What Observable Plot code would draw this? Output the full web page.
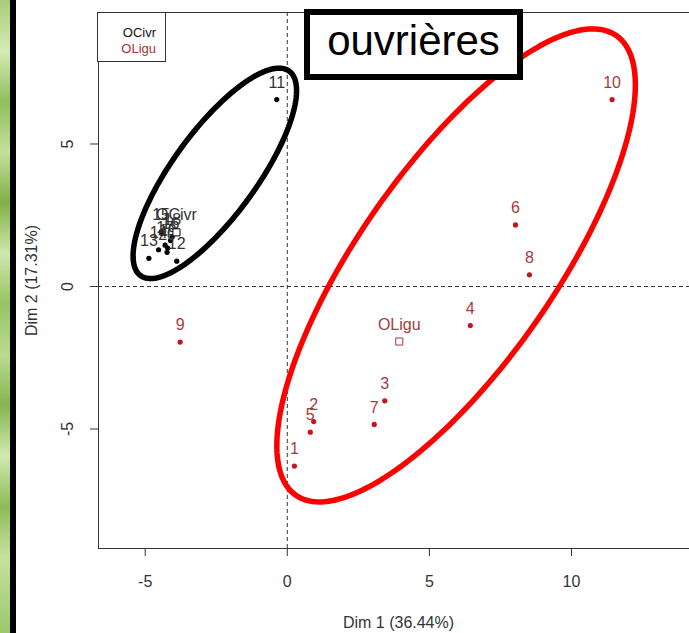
<!DOCTYPE html>
<html>
<head>
<meta charset="utf-8">
<script src="https://cdn.jsdelivr.net/npm/d3@7"></script>
<script src="https://cdn.jsdelivr.net/npm/@observablehq/plot@0.6"></script>
<style>
  html, body { margin: 0; padding: 0; background: #fff; }
  body { width: 689px; height: 633px; overflow: hidden; position: relative; font-family: "Liberation Sans", Arial, sans-serif; }
  #chart { position: absolute; left: 0; top: 0; width: 700px; height: 633px; }
  #chart svg { max-width: none !important; width: 700px; height: 633px; }
  #leaf { position: absolute; left: 0; top: 0; width: 10px; height: 633px;
    background: linear-gradient(to bottom, #a8cc78 0%, #d6ebb6 8%, #8fbf5a 16%, #c4e09c 24%, #7fb046 32%, #cfe7ad 40%, #96c463 48%, #bcdb92 56%, #84b64e 64%, #d2e9b2 72%, #8cbc57 80%, #c6e1a0 88%, #9ac86a 100%); }
  #bar { position: absolute; left: 10px; top: 0; width: 6px; height: 633px; background: #000; }
  #legend { position: absolute; left: 97px; top: 12px; width: 69px; height: 50px; box-sizing: border-box;
    border: 1px solid #333; background: #fff; text-align: right; padding: 12px 9px 0 0;
    font-size: 13px; line-height: 15.5px; }
  #title { position: absolute; left: 304px; top: 9px; width: 219px; height: 71px; box-sizing: border-box;
    border: 6px solid #000; background: #fff; display: flex; align-items: center; justify-content: center;
    padding-bottom: 8px; font-size: 42px; color: #000; }
</style>
</head>
<body>
<div id="chart"></div>
<div id="leaf"></div>
<div id="bar"></div>
<div id="legend"><div style="color:#111">OCivr</div><div style="color:#a83232">OLigu</div></div>
<div id="title">ouvrières</div>
<script>
// ---- data ----
const ligIds = ["1","2","3","4","5","6","7","8","9","10"];
const ligX = [0.25, 0.93, 3.43, 6.44, 0.81, 8.03, 3.06, 8.52, -3.77, 11.43];
const ligY = [-6.30, -4.74, -4.01, -1.37, -5.11, 2.16, -4.84, 0.41, -1.95, 6.56];

const civIds = ["11","12","13","14","15","16","17","18","19","20"];
const civX = [-0.37, -3.89, -4.87, -4.53, -4.44, -4.11, -4.30, -4.05, -4.21, -4.23];
const civY = [6.56, 0.89, 0.99, 1.29, 1.91, 1.61, 1.45, 1.75, 1.35, 1.20];

const catNames = ["OCivr", "OLigu"];
const catX = [-3.90, 3.94];
const catY = [1.90, -1.93];

const xTicks = [-5, 0, 5, 10];
const yTicks = [-5, 0, 5];
const xTitle = "Dim 1 (36.44%)";
const yTitle = "Dim 2 (17.31%)";

// annotation ellipses (centre, semi-axes in data units, rotation in degrees)
const ellipseNames = ["civ", "lig"];
const ellipseCx = [-2.55, 5.94];
const ellipseCy = [3.97, 0.74];
const ellipseA = [4.44, 9.84];
const ellipseB = [1.48, 3.44];
const ellipseAngle = [53.9, 55];

// ---- tables ----
const lig = ligIds.map((id, i) => ({id, x: ligX[i], y: ligY[i]}));
const civ = civIds.map((id, i) => ({id, x: civX[i], y: civY[i]}));
const cats = catNames.map((name, i) => ({name, x: catX[i], y: catY[i]}));

function ellipse(k) {
  const pts = [];
  const th = ellipseAngle[k] * Math.PI / 180;
  for (let i = 0; i < 180; i++) {
    const t = i / 180 * 2 * Math.PI;
    const u = ellipseA[k] * Math.cos(t), v = ellipseB[k] * Math.sin(t);
    pts.push({name: ellipseNames[k],
      x: ellipseCx[k] + u * Math.cos(th) - v * Math.sin(th),
      y: ellipseCy[k] + u * Math.sin(th) + v * Math.cos(th)});
  }
  return pts;
}
const civEllipse = ellipse(0);
const ligEllipse = ellipse(1);

const axisCol = "#333";
const redDot = "#c8141e";
const redText = "#a83a3a";

const plot = Plot.plot({
  width: 700,
  height: 633,
  marginLeft: 98,
  marginRight: 2,
  marginTop: 12,
  marginBottom: 85,
  x: {domain: [-6.643, 14.47]},
  y: {domain: [-9.193, 9.614]},
  style: {fontFamily: '"Liberation Sans", Arial, sans-serif', background: "transparent", overflow: "visible"},
  marks: [
    Plot.ruleX([0], {stroke: axisCol, strokeDasharray: "4,3", strokeWidth: 1}),
    Plot.ruleY([0], {stroke: axisCol, strokeDasharray: "4,3", strokeWidth: 1}),
    Plot.frame({stroke: axisCol, strokeWidth: 1}),
    Plot.axisX({ticks: xTicks, tickSize: 8, tickFormat: () => "", label: null, stroke: axisCol}),
    Plot.axisY({ticks: yTicks, tickSize: 8, tickFormat: () => "", label: null, stroke: axisCol}),
    Plot.text(xTicks, {x: d => d, text: d => String(d), frameAnchor: "bottom", dy: 33, lineAnchor: "middle", fontSize: 16, fill: axisCol}),
    Plot.text(yTicks, {y: d => d, text: d => String(d), frameAnchor: "left", dx: -31, rotate: -90, textAnchor: "middle", lineAnchor: "middle", fontSize: 16, fill: axisCol}),
    Plot.text([xTitle], {text: d => d, frameAnchor: "bottom", dy: 74, lineAnchor: "middle", fontSize: 16, fill: axisCol}),
    Plot.text([yTitle], {text: d => d, frameAnchor: "left", dx: -67, rotate: -90, textAnchor: "middle", lineAnchor: "middle", fontSize: 16, fill: axisCol}),
    // individuals
    Plot.dot(lig, {x: "x", y: "y", r: 2.6, fill: redDot, stroke: null}),
    Plot.text(lig, {x: "x", y: "y", text: "id", dy: -17, lineAnchor: "middle", fontSize: 16, fill: redText}),
    Plot.dot(civ, {x: "x", y: "y", r: 2.6, fill: "#000", stroke: null}),
    Plot.text(civ, {x: "x", y: "y", text: "id", dy: -17, lineAnchor: "middle", fontSize: 16, fill: "#333"}),
    // category centroids
    Plot.dot(cats, {x: "x", y: "y", symbol: "square", r: 4, fill: "#fff", stroke: (d) => d.name === "OLigu" ? redText : "#000", strokeWidth: 1}),
    Plot.text(cats, {x: "x", y: "y", text: "name", dy: -17, lineAnchor: "middle", fontSize: 16, fill: (d) => d.name === "OLigu" ? redText : "#333"}),
    // annotation ellipses
    Plot.line(civEllipse, {x: "x", y: "y", curve: "linear-closed", stroke: "#000", strokeWidth: 5.5}),
    Plot.line(ligEllipse, {x: "x", y: "y", curve: "linear-closed", stroke: "#ff0000", strokeWidth: 5.5})
  ]
});
document.getElementById("chart").appendChild(plot);
</script>
</body>
</html>
